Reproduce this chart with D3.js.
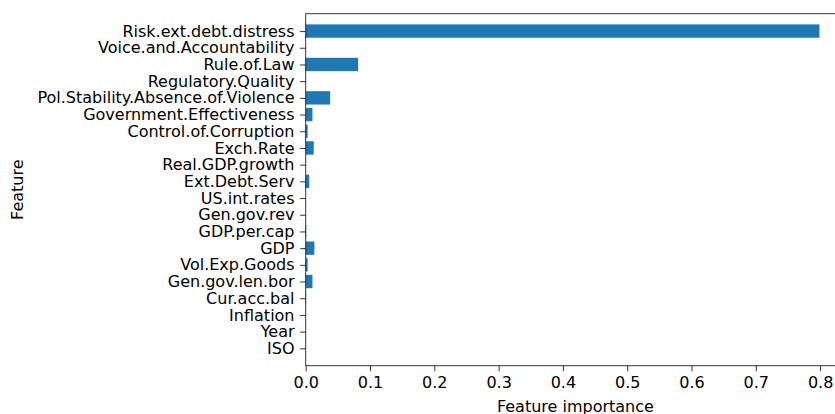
<html><head>
<script src="https://d3js.org/d3.v7.min.js"></script>
<style>
  body { margin: 0; background: #fff; }
  svg text { font-family: "DejaVu Sans", sans-serif; fill: #000; }
  .tick line { stroke: #000; stroke-width: 0.8px; }
  .bar { fill: #1f77b4; }
  .spine { stroke: #000; stroke-width: 0.8px; fill: none; }
</style>
</head>
<body>
<svg id="chart" width="835" height="414"></svg>
<script>
  // features listed top to bottom, as they appear in the chart
  const features = ["Risk.ext.debt.distress", "Voice.and.Accountability", "Rule.of.Law",
    "Regulatory.Quality", "Pol.Stability.Absence.of.Violence", "Government.Effectiveness",
    "Control.of.Corruption", "Exch.Rate", "Real.GDP.growth", "Ext.Debt.Serv", "US.int.rates",
    "Gen.gov.rev", "GDP.per.cap", "GDP", "Vol.Exp.Goods", "Gen.gov.len.bor", "Cur.acc.bal",
    "Inflation", "Year", "ISO"];
  const importance = [0.799, 0, 0.0815, 0, 0.038, 0.0105, 0.003, 0.0125, 0, 0.0055, 0,
    0, 0.0008, 0.0135, 0.003, 0.0105, 0.0006, 0, 0, 0];
  const xTicks = [0, 0.1, 0.2, 0.3, 0.4, 0.5, 0.6, 0.7, 0.8];

  const svg = d3.select("#chart");
  const fontSize = 16;
  const tick = 5.6;
  const plotLeft = 305.7, plotTop = 13.7, plotBottom = 365.7;

  // matplotlib style: bottom category (ISO) sits at 0, top at n-1
  const n = features.length;
  const rows = features.map((f, i) => ({ name: f, value: importance[i], pos: n - 1 - i }));

  const xMax = d3.max(importance) * 1.05;
  const x = d3.scaleLinear().domain([0, xMax]).range([plotLeft, plotLeft + xMax * 643]);
  const y = d3.scaleLinear().domain([-1.04, n - 1 + 1.04]).range([plotBottom, plotTop]);
  const barH = y(0) - y(0.8);

  svg.selectAll("rect.bar").data(rows)
    .join("rect")
    .attr("class", "bar")
    .attr("x", x(0))
    .attr("y", d => y(d.pos + 0.4))
    .attr("width", d => x(d.value) - x(0))
    .attr("height", barH);

  // spines
  svg.append("path").attr("class", "spine")
    .attr("d", `M${plotLeft},${plotBottom}V${plotTop}H${x(xMax)}V${plotBottom}Z`);

  const yAxis = d3.axisLeft(y)
    .tickValues(rows.map(d => d.pos))
    .tickFormat(p => rows.find(d => d.pos === p).name)
    .tickSize(tick).tickPadding(tick);
  const gy = svg.append("g").attr("transform", `translate(${plotLeft},0)`).call(yAxis);
  gy.select(".domain").remove();
  gy.selectAll("text").style("font-size", fontSize + "px").attr("fill", "#000");

  const xAxis = d3.axisBottom(x)
    .tickValues(xTicks)
    .tickFormat(d3.format(".1f"))
    .tickSize(tick).tickPadding(tick);
  const gx = svg.append("g").attr("transform", `translate(0,${plotBottom})`).call(xAxis);
  gx.select(".domain").remove();
  gx.selectAll("text").style("font-size", fontSize + "px").attr("fill", "#000");

  svg.append("text")
    .attr("x", (plotLeft + x(xMax)) / 2)
    .attr("y", 412)
    .attr("text-anchor", "middle")
    .style("font-size", fontSize + "px")
    .text("Feature importance");

  svg.append("text")
    .attr("transform", `translate(23,${(plotTop + plotBottom) / 2}) rotate(-90)`)
    .attr("text-anchor", "middle")
    .style("font-size", fontSize + "px")
    .text("Feature");
</script>
</body>
</html>
